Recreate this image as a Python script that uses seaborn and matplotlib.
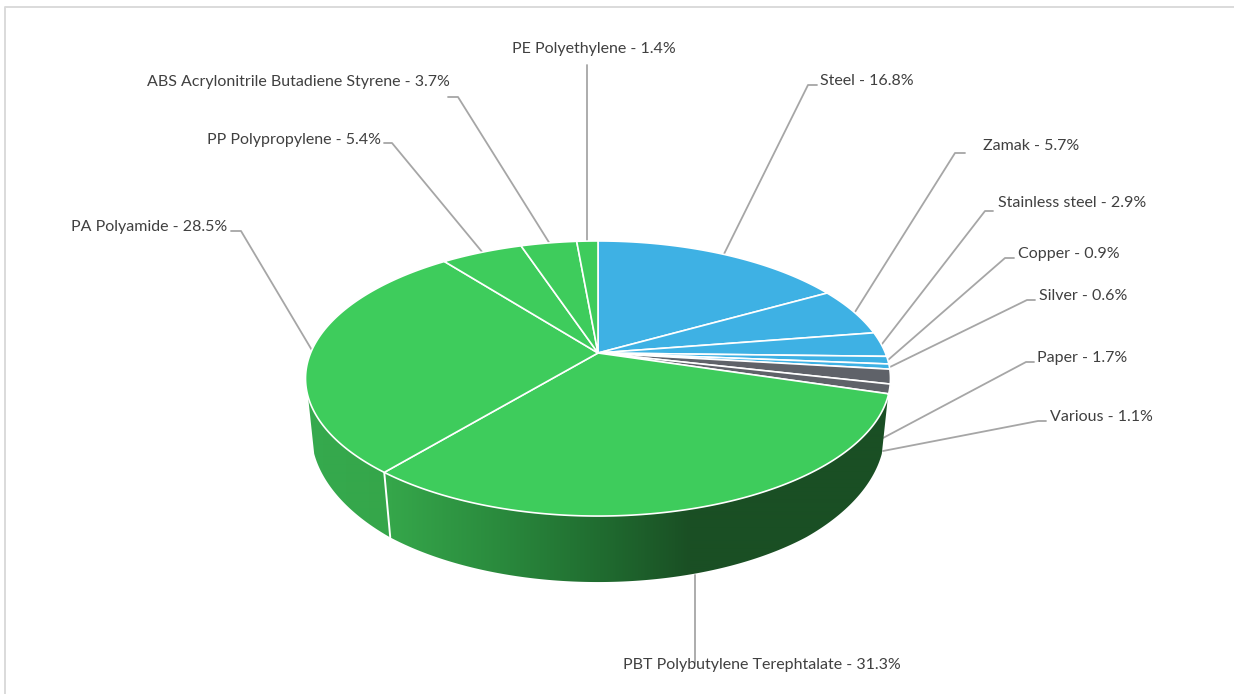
import numpy as np
import pandas as pd
import seaborn as sns
import matplotlib.pyplot as plt

materials = ["Steel", "Zamak", "Stainless steel", "Copper", "Silver", "Paper", "Various",
             "PBT Polybutylene Terephtalate", "PA Polyamide", "PP Polypropylene",
             "ABS Acrylonitrile Butadiene Styrene", "PE Polyethylene"]
shares = [16.8, 5.7, 2.9, 0.9, 0.6, 1.7, 1.1, 31.3, 28.5, 5.4, 3.7, 1.4]
groups = ["metal", "metal", "metal", "metal", "metal", "other", "other",
          "plastic", "plastic", "plastic", "plastic", "plastic"]

palette = {"metal": "#3EB1E4", "other": "#5F6269", "plastic": "#3ECC5C"}

# label anchor (left edge of text, middle) and leader line, in pixels
label_x = [820, 983, 998, 1018, 1039, 1037, 1050, 623, 71, 207, 147, 512]
label_y = [81, 146, 203, 254, 296, 358, 417, 665, 227, 140, 82, 49]
leaders = [
    [(724, 254), (808, 85), (817, 85)],
    [(855, 312), (955, 153), (965, 153)],
    [(882, 344), (985, 211), (993, 211)],
    [(888, 360), (1005, 258), (1014, 258)],
    [(890, 367), (1027, 300), (1035, 300)],
    [(883, 438), (1026, 362), (1034, 362)],
    [(883, 451), (1038, 421), (1046, 421)],
    [(695, 575), (695, 663)],
    [(313, 352), (241, 231), (231, 231)],
    [(483, 253), (392, 143), (384, 143)],
    [(550, 244), (458, 97), (448, 97)],
    [(587, 241), (587, 65)],
]

# perspective of the pie top, fitted to the ellipse in the picture
CX, CY = 598, 353
A, B, K = 287.4, 132.8, 0.1855


def rim(frac):
    t = np.asarray(frac) * 2 * np.pi
    u, v = np.sin(t), np.cos(t)
    w = 1 + K * v
    return CX + A * u / w, CY - B * v / w


def lower(x, y):
    scale = np.interp(y, [395, 472], [0.979, 0.972])
    return CX + (x - CX) * scale, y + np.interp(y, [395, 472, 516], [57, 65, 66])


df = pd.DataFrame({"material": materials, "share": shares, "group": groups})
df["end"] = df["share"].cumsum() / df["share"].sum()
df["start"] = df["end"] - df["share"] / df["share"].sum()

sns.set_theme(style="white")
plt.rcParams["font.family"] = ["Lato", "DejaVu Sans"]

fig = plt.figure(figsize=(12.34, 6.94), dpi=100)
ax = fig.add_axes([0, 0, 1, 1])
ax.axis("off")

# chart frame, only top and left show
ax.plot([5, 5, 1234], [694, 7, 7], color="#DADADA", lw=1.4)

# side wall as a horizontal gradient clipped to the wall outline
wall_x = [300, 392, 500, 600, 690, 900]
wall_c = np.array([[0x35, 0xAA, 0x4E], [0x35, 0xA6, 0x4A], [0x2A, 0x8A, 0x3D],
                   [0x20, 0x6C, 0x30], [0x1A, 0x4F, 0x24], [0x1A, 0x4F, 0x24]]) / 255
grad_x = np.arange(300, 900)
grad = np.stack([np.interp(grad_x, wall_x, wall_c[:, c]) for c in range(3)], axis=-1)[None, :, :]
f = np.linspace(0.25, 0.75, 721)
xs, ys = rim(f)
keep = ys >= 396
xs, ys = xs[keep], ys[keep]
xl, yl = lower(xs, ys)
outline = ax.fill(np.r_[xs, xl[::-1]], np.r_[ys, yl[::-1]], color="none", zorder=2)[0]
img = ax.imshow(grad, extent=(300, 900, 600, 340), aspect="auto", zorder=2, interpolation="bilinear")
img.set_clip_path(outline)

ax.set_xlim(0, 1234)
ax.set_ylim(694, 0)

# white divider on the wall between PBT and PA
b = df.loc[df["material"] == "PBT Polybutylene Terephtalate", "end"].iloc[0]
bx, by = rim(b)
lx, ly = lower(bx, by)
ax.plot([bx, lx], [by, ly], color="white", lw=1.4, zorder=3)

# top slices
for row in df.itertuples():
    f = np.linspace(row.start, row.end, max(3, int(row.share * 8)))
    x, y = rim(f)
    ax.fill(np.r_[CX, x], np.r_[CY, y], facecolor=palette[row.group],
            edgecolor="white", lw=1.2, joinstyle="round", zorder=4)

# leaders and labels
for name, share, lx, ly, pts in zip(materials, shares, label_x, label_y, leaders):
    pts = np.array(pts)
    ax.plot(pts[:, 0], pts[:, 1], color="#A6A6A6", lw=1.3, zorder=1)
    ax.text(lx, ly, f"{name} - {share}%", color="#404040", fontsize=11.5,
            ha="left", va="center", zorder=5)

fig.savefig("out.png", dpi=100)
